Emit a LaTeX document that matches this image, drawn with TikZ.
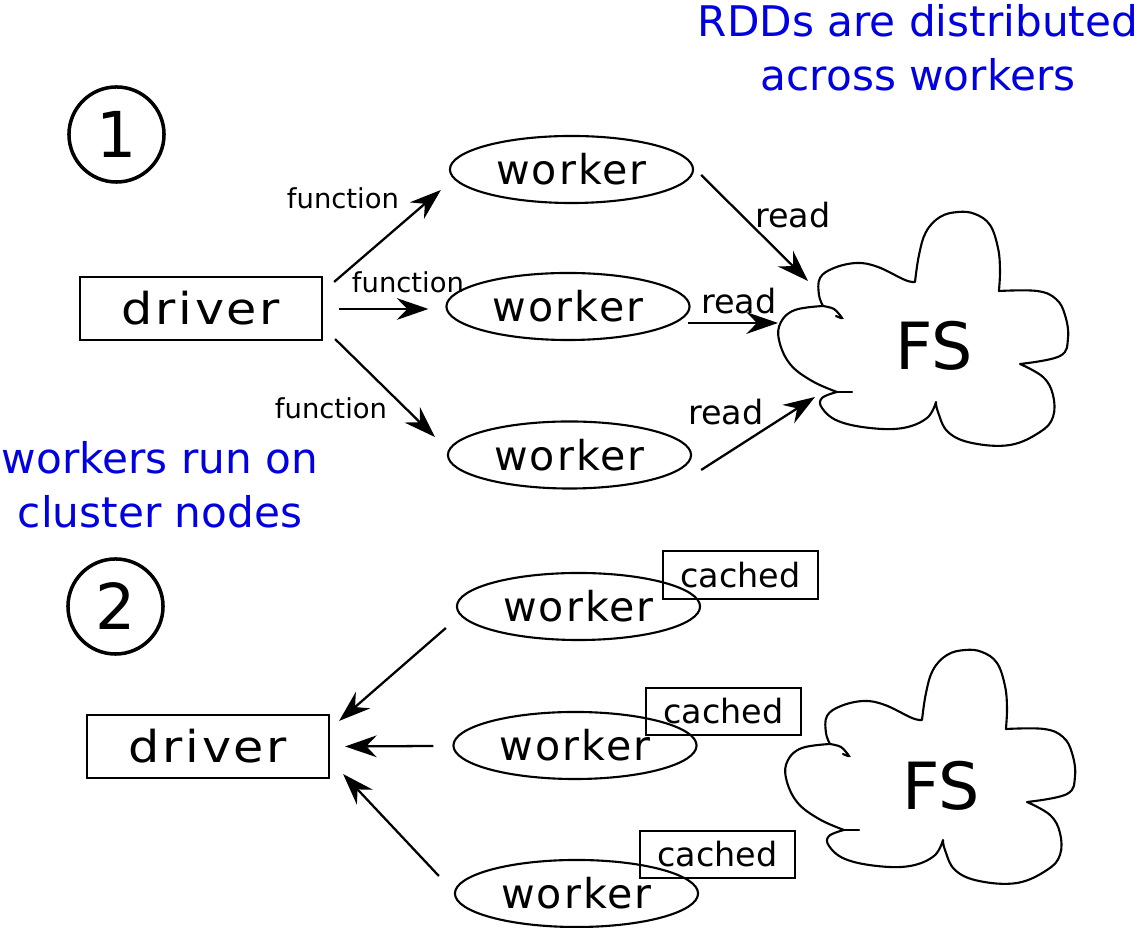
\documentclass[tikz,border=0pt]{standalone}
\usepackage{fontspec}
\setmainfont{DejaVu Sans}
\newfontfamily\drvfont[LetterSpace=6, FakeStretch=1.12]{DejaVu Sans}
\newfontfamily\wkfont[LetterSpace=5]{DejaVu Sans}
\usetikzlibrary{arrows.meta,shapes.geometric}
\definecolor{noteblue}{RGB}{0,0,225}
\tikzset{
  drvbox/.style={draw, line width=0.6pt, minimum width=2.42cm, minimum height=0.63cm, inner sep=0pt, font=\drvfont\fontsize{12.5}{14}\selectfont},
  wkell/.style={draw, ellipse, line width=0.6pt, minimum width=2.43cm, minimum height=0.67cm, inner sep=0pt, font=\wkfont\fontsize{11.7}{13}\selectfont},
  cachebox/.style={draw, line width=0.6pt, minimum width=1.55cm, minimum height=0.475cm, inner sep=0pt, font=\fontsize{9.5}{11}\selectfont},
  stepnum/.style={draw, circle, line width=1pt, minimum size=0.95cm, inner sep=0pt, font=\fontsize{18}{20}\selectfont},
  flowarrow/.style={-{Stealth[length=9pt, width=6.2pt, inset=3pt]}, line width=0.65pt},
  fnlabel/.style={inner sep=0pt, font=\fontsize{7.8}{9}\selectfont},
  rdlabel/.style={inner sep=0pt, font=\fontsize{9.5}{11}\selectfont},
  notetext/.style={inner sep=0pt, text=noteblue, align=center, font=\fontsize{12}{15.5}\selectfont},
  fstext/.style={inner sep=0pt, font=\fontsize{18.5}{20}\selectfont},
  fscloud/.pic={
    \draw[line width=0.6pt, line join=round, line cap=round]
      plot[smooth, tension=0.65] coordinates {(915,282) (919,255) (926,232) (940,217) (958,212) (975,214) (990,225) (998,248) (1000,270) (999,290)}
      -- plot[smooth, tension=0.65] coordinates {(999,291) (1037,291) (1056,299) (1065,315) (1068,338) (1060,356) (1020,364)}
      -- plot[smooth, tension=0.65] coordinates {(1020,364) (1043,377) (1053,395) (1053,417) (1040,432) (1010,445) (972,443) (948,432) (938,412) (936,402)}
      -- plot[smooth, tension=0.65] coordinates {(936,402) (927,418) (903,428) (870,428) (838,421) (822,408) (822,398) (837,392)}
      -- plot[smooth, tension=0.65] coordinates {(837,392) (812,381) (790,364) (779,340) (781,322) (795,310) (823,306)}
      -- plot[smooth, tension=0.65] coordinates {(823,306) (819,295) (820,278) (834,268) (857,263) (878,267) (905,280) (915,282)};
    \draw[line width=0.6pt, line cap=round] (837,392) -- (852,392);
    \draw[line width=0.6pt, line cap=round] plot[smooth] coordinates {(823,306) (834,309) (842,318) (836,316)};
  }
}

\begin{document}
\begin{tikzpicture}[x=0.01cm, y=-0.01cm]
  \useasboundingbox (0,0) rectangle (1141,928);

  % step 1: driver sends functions, workers read from FS
  \node[stepnum] (one) at (116.5,134.5) {1};
  \node[drvbox] (drv1) at (201,308.5) {driver};
  \node[wkell] (wk1) at (571.5,169.5) {worker};
  \node[wkell] (wk2) at (568,306.5) {worker};
  \node[wkell] (wk3) at (569.5,455) {worker};
  \pic at (0,0) {fscloud};
  \node[fstext] (fs1) at (934,346) {FS};

  \draw[flowarrow] ([shift={(11,6)}]drv1.north east) -- ([shift={(-8,20.5)}]wk1.west);
  \draw[flowarrow] ([shift={(16,0.5)}]drv1.east) -- ([shift={(-17,2.5)}]wk2.west);
  \draw[flowarrow] ([shift={(12,-2)}]drv1.south east) -- ([shift={(-12,-18)}]wk3.west);
  \draw[flowarrow] ([shift={(7,5.5)}]wk1.east) -- ([shift={(-126,-65)}]fs1.center);
  \draw[flowarrow] ([shift={(-3,16.5)}]wk2.east) -- ([shift={(-156,-23)}]fs1.center);
  \draw[flowarrow] ([shift={(9,15)}]wk3.east) -- ([shift={(-119,51)}]fs1.center);

  \node[fnlabel] (fn1) at (343,198) {function};
  \node[fnlabel] (fn2) at (408,282) {function};
  \node[fnlabel] (fn3) at (331,408) {function};
  \node[rdlabel] (rd1) at (793,215) {read};
  \node[rdlabel] (rd2) at (739,301) {read};
  \node[rdlabel] (rd3) at (726,412) {read};

  \node[notetext] (rddnote) at (918,48) {RDDs are distributed\\across workers};
  \node[notetext] (wknote) at (160,485) {workers run on\\cluster nodes};

  % step 2: cached results go back to the driver
  \node[stepnum] (two) at (115.5,606.5) {2};
  \node[drvbox] (drv2) at (208,746.5) {driver};
  \node[wkell] (wk4) at (578.5,606.5) {worker};
  \node[wkell] (wk5) at (575,745.5) {worker};
  \node[wkell] (wk6) at (576.5,893.5) {worker};
  \node[cachebox] (ca4) at (740.5,575) {cached};
  \node[cachebox] (ca5) at (723.5,711.5) {cached};
  \node[cachebox] (ca6) at (717.5,854.5) {cached};
  \pic at (7,438) {fscloud};
  \node[fstext] (fs2) at (941,786) {FS};

  \draw[flowarrow] ([shift={(-10,21.5)}]wk4.west) -- ([shift={(9,7)}]drv2.north east);
  \draw[flowarrow] ([shift={(-19,0.5)}]wk5.west) -- ([shift={(15,0)}]drv2.east);
  \draw[flowarrow] ([shift={(-15,-17.5)}]wk6.west) -- ([shift={(13,-5)}]drv2.south east);
\end{tikzpicture}
\end{document}
